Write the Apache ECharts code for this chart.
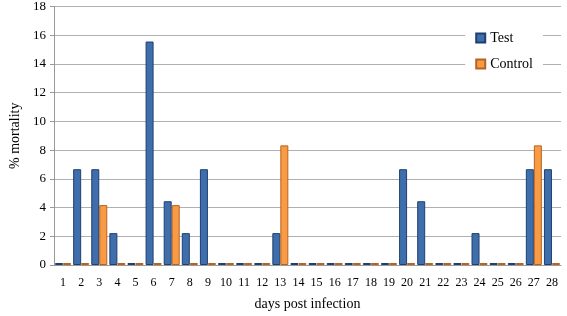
<!DOCTYPE html>
<html>
<head>
<meta charset="utf-8">
<script src="https://cdn.jsdelivr.net/npm/echarts@6/dist/echarts.min.js"></script>
<style>html,body{margin:0;padding:0;background:#fff}#main{width:567px;height:316px}</style>
</head>
<body>
<div id="main"></div>
<script>
var days=['1','2','3','4','5','6','7','8','9','10','11','12','13','14','15','16','17','18','19','20','21','22','23','24','25','26','27','28']
var testVals=[0,6.67,6.67,2.22,0,15.56,4.44,2.22,6.67,0,0,0,2.22,0,0,0,0,0,0,6.67,4.44,0,0,2.22,0,0,6.67,6.67]
var controlVals=[0,0,4.17,0,0,0,4.17,0,0,0,0,0,8.33,0,0,0,0,0,0,0,0,0,0,0,0,0,8.33,0]

var myChart=echarts.init(document.getElementById('main'))
var font='"Liberation Serif", "DejaVu Serif", serif'
var option={
    backgroundColor:'#ffffff',
    textStyle:{fontFamily:font},
    grid:{left:47,right:6,top:6,bottom:49},
    legend:{
        orient:'vertical',
        right:24,
        top:28,
        icon:'rect',
        itemWidth:9,
        itemHeight:9,
        itemGap:12,
        backgroundColor:'#ffffff',
        padding:[3,10,3,10],
        textStyle:{fontFamily:font,fontSize:14,color:'#000'},
        data:['Test','Control']
    },
    xAxis:{
        type:'category',
        data:days,
        name:'days post infection',
        nameLocation:'middle',
        nameGap:32,
        nameTextStyle:{fontFamily:font,fontSize:14,color:'#000'},
        axisLine:{lineStyle:{color:'#999'}},
        axisTick:{show:false},
        axisLabel:{fontFamily:font,fontSize:12,color:'#000',interval:0,margin:12}
    },
    yAxis:{
        type:'value',
        min:0,
        max:18,
        interval:2,
        name:'% mortality',
        nameLocation:'middle',
        nameGap:32,
        nameTextStyle:{fontFamily:font,fontSize:14,color:'#000'},
        axisLine:{show:true,lineStyle:{color:'#999'}},
        axisTick:{show:true,length:4,lineStyle:{color:'#999'}},
        axisLabel:{fontFamily:font,fontSize:13,color:'#000',margin:8},
        splitLine:{lineStyle:{color:'#b0b0b0'}}
    },
    series:[
        {
            name:'Test',
            type:'bar',
            data:testVals,
            barWidth:8,
            barGap:'0%',
            barMinHeight:2,
            itemStyle:{color:'#3f6ead',borderColor:'#1f3f6e',borderWidth:1}
        },
        {
            name:'Control',
            type:'bar',
            data:controlVals,
            barWidth:8,
            barMinHeight:2,
            itemStyle:{color:'#f99a45',borderColor:'#b56320',borderWidth:1}
        }
    ]
}
myChart.setOption(option)
</script>
</body>
</html>
